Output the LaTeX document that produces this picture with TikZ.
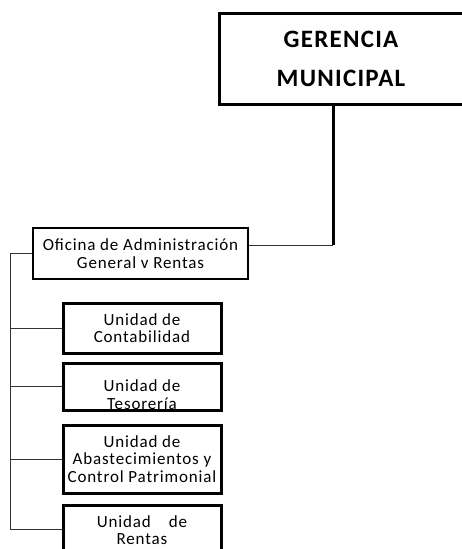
\documentclass[tikz,border=0pt]{standalone}
\usepackage{fontspec}
\setmainfont{Carlito}
\newfontfamily\boxfont[LetterSpace=5]{Carlito}
\usetikzlibrary{calc}

\begin{document}
\begin{tikzpicture}[x=1pt, y=-1pt,
    unit/.style={draw, line width=3pt, minimum width=158, inner sep=0pt,
      align=center, font=\boxfont\fontsize{17}{17.5}\selectfont},
    link/.style={draw, line width=0.8pt, color=black!80}]
  \useasboundingbox (0,0) rectangle (462,549);
  \clip (0,0) rectangle (462,549);

  % top office
  \node [draw, line width=3pt, minimum width=244, minimum height=91, align=center,
    font=\boxfont\bfseries\fontsize{25}{39}\selectfont, name=ger] at (341,58.5)
    {GERENCIA\\MUNICIPAL};

  \node [draw, line width=2.5pt, minimum width=215, minimum height=51, inner sep=0pt,
    align=center, font=\boxfont\fontsize{17}{18}\selectfont, name=ofi] at (140.5,253.5)
    {Oficina de Administración\\General v Rentas};

  % units
  \node [unit, minimum height=50, name=u1] at (142,328) {Unidad de\\Contabilidad};
  \node [unit, minimum height=47, name=u2, path picture={
      \node [align=center, font=\boxfont\fontsize{17}{17.5}\selectfont]
        at ($(path picture bounding box.center) + (0,8)$) {Unidad de\\Tesorería};}]
    at (142,386.5) {};
  \node [unit, minimum height=68, name=u3] at (142,459)
    {Unidad de\\Abastecimientos y\\Control Patrimonial};
  \node [unit, minimum height=50, name=u4] at (142,530) {Unidad\hspace{18pt}de\\Rentas};

  % connectors
  \coordinate (elbow) at (333,245);
  \coordinate (spine) at (10,253.5);
  \draw [line width=3pt] (ger.south -| elbow) -- (elbow);
  \draw [link] (elbow) -- (elbow -| ofi.east);
  \draw [link] (ofi.west) -- (spine) -- (spine |- 0,529);
  \draw [link] (spine |- u1.west) -- (u1.west);
  \draw [link] (spine |- u2.west) -- (u2.west);
  \draw [link] (spine |- u3.west) -- (u3.west);
  \draw [link] (spine |- 0,529) -- (0,529 -| u4.west);
\end{tikzpicture}
\end{document}
